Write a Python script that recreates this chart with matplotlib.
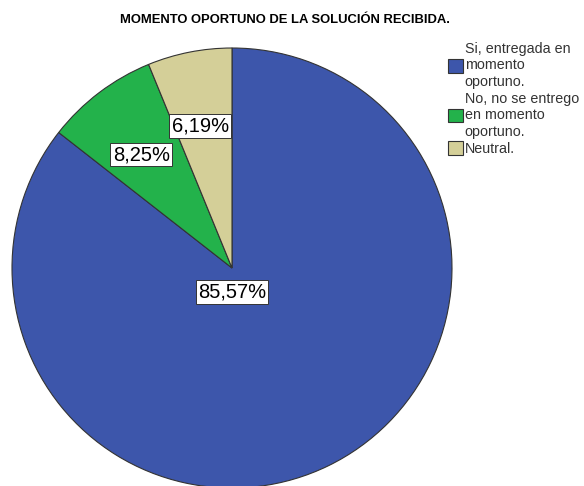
import numpy as np
import matplotlib.pyplot as plt

plt.rcParams['font.family'] = ['Liberation Sans', 'DejaVu Sans']

categorias = ["Si, entregada en\nmomento\noportuno.",
              "No, no se entrego\nen momento\noportuno.",
              "Neutral."]
porcentajes = [85.57, 8.25, 6.19]
colores = ["#3d56ab", "#23b24b", "#d4cf98"]

fig = plt.figure(figsize=(5.84, 4.86), dpi=100)
cx, cy, r = 232, 268, 220
ax = fig.add_axes([(cx - r) / 584, (486 - cy - r) / 486, 2 * r / 584, 2 * r / 486])

wedges, _ = ax.pie(porcentajes, colors=colores, startangle=90, counterclock=False,
                   radius=1, wedgeprops=dict(edgecolor="#333333", linewidth=0.8))
ax.set_xlim(-1, 1)
ax.set_ylim(-1, 1)
ax.set_aspect("auto")
ax.axis("off")

# etiquetas de porcentaje
caja = dict(boxstyle="square,pad=0.12", facecolor="white", edgecolor="#333333", linewidth=0.7)
for i, (w, p) in enumerate(zip(wedges, porcentajes)):
    texto = f"{p:.2f}%".replace(".", ",")
    if i == 0:
        x, y = 0.0, -0.11
    else:
        ang = np.deg2rad((w.theta1 + w.theta2) / 2 + 1.5)
        x, y = 0.66 * np.cos(ang), 0.66 * np.sin(ang)
    ax.text(x, y, texto, ha="center", va="center", fontsize=14.5, bbox=caja)

fig.text(0.488, 0.958, "MOMENTO OPORTUNO DE LA SOLUCIÓN RECIBIDA.",
         ha="center", va="center", fontsize=9.4, fontweight="bold")

leg = fig.legend(wedges, categorias, loc="upper left", bbox_to_anchor=(448 / 584, 1 - 42 / 486),
                 frameon=False, fontsize=10.3, handlelength=1.05, handleheight=1.05,
                 handletextpad=0.12, labelspacing=0.2, borderpad=0, borderaxespad=0)
for t in leg.get_texts():
    t.set_linespacing(1.22)
    t.set_color("#333333")

fig.savefig("out.png", dpi=100, facecolor="white")
